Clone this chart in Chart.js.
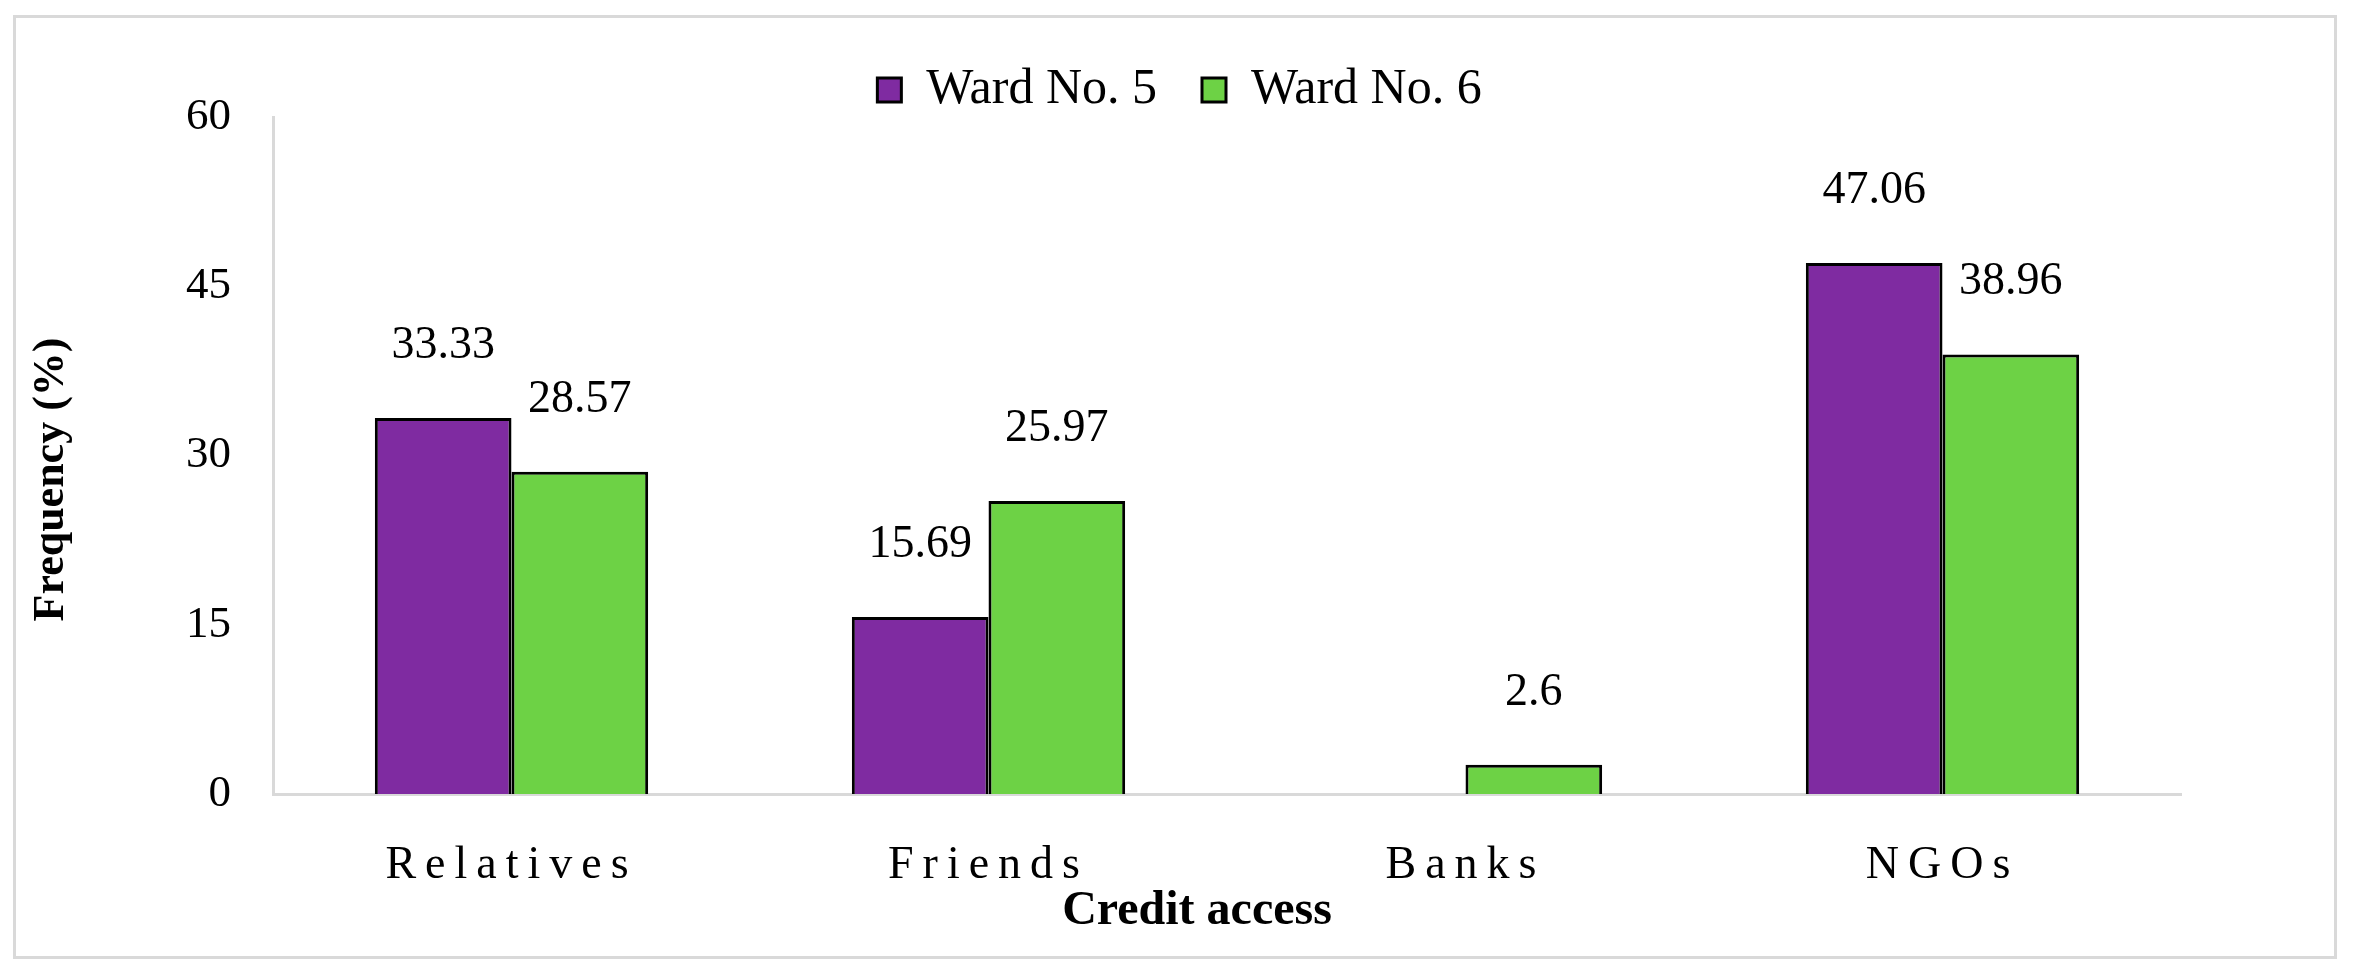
<!DOCTYPE html>
<html>

<head>
    <title>Credit access</title>
    <script src="https://cdn.jsdelivr.net/npm/chart.js"></script>
    <style>
        body { margin: 0; background: #fff; }
    </style>
</head>

<body>
    <canvas id="myChart" width="2353" height="973"></canvas>

    <script>
        const categories = ['Relatives', 'Friends', 'Banks', 'NGOs'];
        const ward5 = [33.33, 15.69, 0, 47.06];
        const ward6 = [28.57, 25.97, 2.6, 38.96];
        const yTicks = [0, 15, 30, 45, 60];

        const serif = '"Liberation Serif", "Times New Roman", serif';

        // outer frame around the whole figure
        const frame = {
            id: 'frame',
            beforeDraw(chart) {
                const ctx = chart.ctx;
                ctx.save();
                ctx.fillStyle = '#fff';
                ctx.fillRect(0, 0, chart.width, chart.height);
                ctx.strokeStyle = '#d9d9d9';
                ctx.lineWidth = 3;
                ctx.strokeRect(14.5, 16.5, 2321, 941);
                ctx.restore();
            }
        };

        // fixed legend height so the plot top lands where it should
        const legendHeight = {
            id: 'legendHeight',
            beforeUpdate(chart) {
                const lg = chart.legend;
                if (lg && !lg._fixed) {
                    const fit = lg.fit;
                    lg.fit = function () {
                        fit.call(this);
                        this.height = 97;
                    };
                    lg._fixed = true;
                }
            },
            afterLayout(chart) {
                // legend sits a little right of centre in the original
                chart.legend.left += 79;
                chart.legend.right += 79;
            }
        };

        // wrap a scale method so it draws with some extra ctx state
        function wrap(scale, name, setup) {
            if (scale['_w_' + name]) return;
            const orig = scale[name];
            scale[name] = function (area) {
                const ctx = this.ctx;
                ctx.save();
                setup(ctx);
                orig.call(this, area);
                ctx.restore();
            };
            scale['_w_' + name] = true;
        }

        const scaleTweaks = {
            id: 'scaleTweaks',
            beforeDraw(chart) {
                wrap(chart.scales.x, 'drawLabels', ctx => { ctx.letterSpacing = '9px'; });
                wrap(chart.scales.x, 'drawTitle', ctx => { ctx.translate(-30, 0); });
                wrap(chart.scales.y, 'drawTitle', ctx => { ctx.translate(0, 24); });
            }
        };

        const valueLabels = {
            id: 'valueLabels',
            afterDatasetsDraw(chart) {
                const ctx = chart.ctx;
                ctx.save();
                ctx.font = '46px ' + serif;
                ctx.fillStyle = '#000';
                ctx.textAlign = 'center';
                ctx.textBaseline = 'middle';
                chart.data.datasets.forEach((ds, i) => {
                    chart.getDatasetMeta(i).data.forEach((bar, j) => {
                        const v = ds.data[j];
                        if (!v) return;
                        ctx.fillText(String(v), bar.x, bar.y - 72);
                    });
                });
                ctx.restore();
            }
        };

        const chart = new Chart('myChart', {
            type: 'bar',
            data: {
                labels: categories,
                datasets: [
                    {
                        label: 'Ward No. 5',
                        data: ward5,
                        backgroundColor: '#7f2ba1',
                        borderColor: '#000',
                        borderWidth: 3
                    },
                    {
                        label: 'Ward No. 6',
                        data: ward6,
                        backgroundColor: '#6dd245',
                        borderColor: '#000',
                        borderWidth: 3
                    }
                ]
            },
            options: {
                responsive: false,
                animation: false,
                categoryPercentage: 0.573,
                barPercentage: 1.0,
                layout: {
                    padding: { left: 20, right: 172, top: 20, bottom: 20 }
                },
                plugins: {
                    legend: {
                        position: 'top',
                        labels: {
                            font: { family: serif, size: 50 },
                            color: '#000',
                            boxWidth: 24,
                            boxHeight: 24,
                            padding: 45
                        }
                    },
                    tooltip: { enabled: false }
                },
                scales: {
                    x: {
                        afterFit: s => { s.height = 159; },
                        grid: { display: false, drawTicks: false },
                        border: { color: '#d9d9d9', width: 3 },
                        ticks: {
                            font: { family: serif, size: 46 },
                            color: '#000',
                            padding: 44,
                            maxRotation: 0
                        },
                        title: {
                            display: true,
                            text: 'Credit access',
                            font: { family: serif, size: 48, weight: 'bold' },
                            color: '#000',
                            padding: { top: 0, bottom: 13 }
                        }
                    },
                    y: {
                        min: 0,
                        max: 60,
                        afterFit: s => { s.width = 253; },
                        afterBuildTicks: s => { s.ticks = yTicks.map(v => ({ value: v })); },
                        grid: { display: false, drawTicks: false },
                        border: { color: '#d9d9d9', width: 3 },
                        ticks: {
                            font: { family: serif, size: 45 },
                            color: '#000',
                            padding: 42
                        },
                        title: {
                            display: true,
                            text: 'Frequency (%)',
                            font: { family: serif, size: 44, weight: 'bold' },
                            color: '#000',
                            padding: { top: 5, bottom: 0 }
                        }
                    }
                }
            },
            plugins: [frame, legendHeight, scaleTweaks, valueLabels]
        });
    </script>
</body>

</html>
